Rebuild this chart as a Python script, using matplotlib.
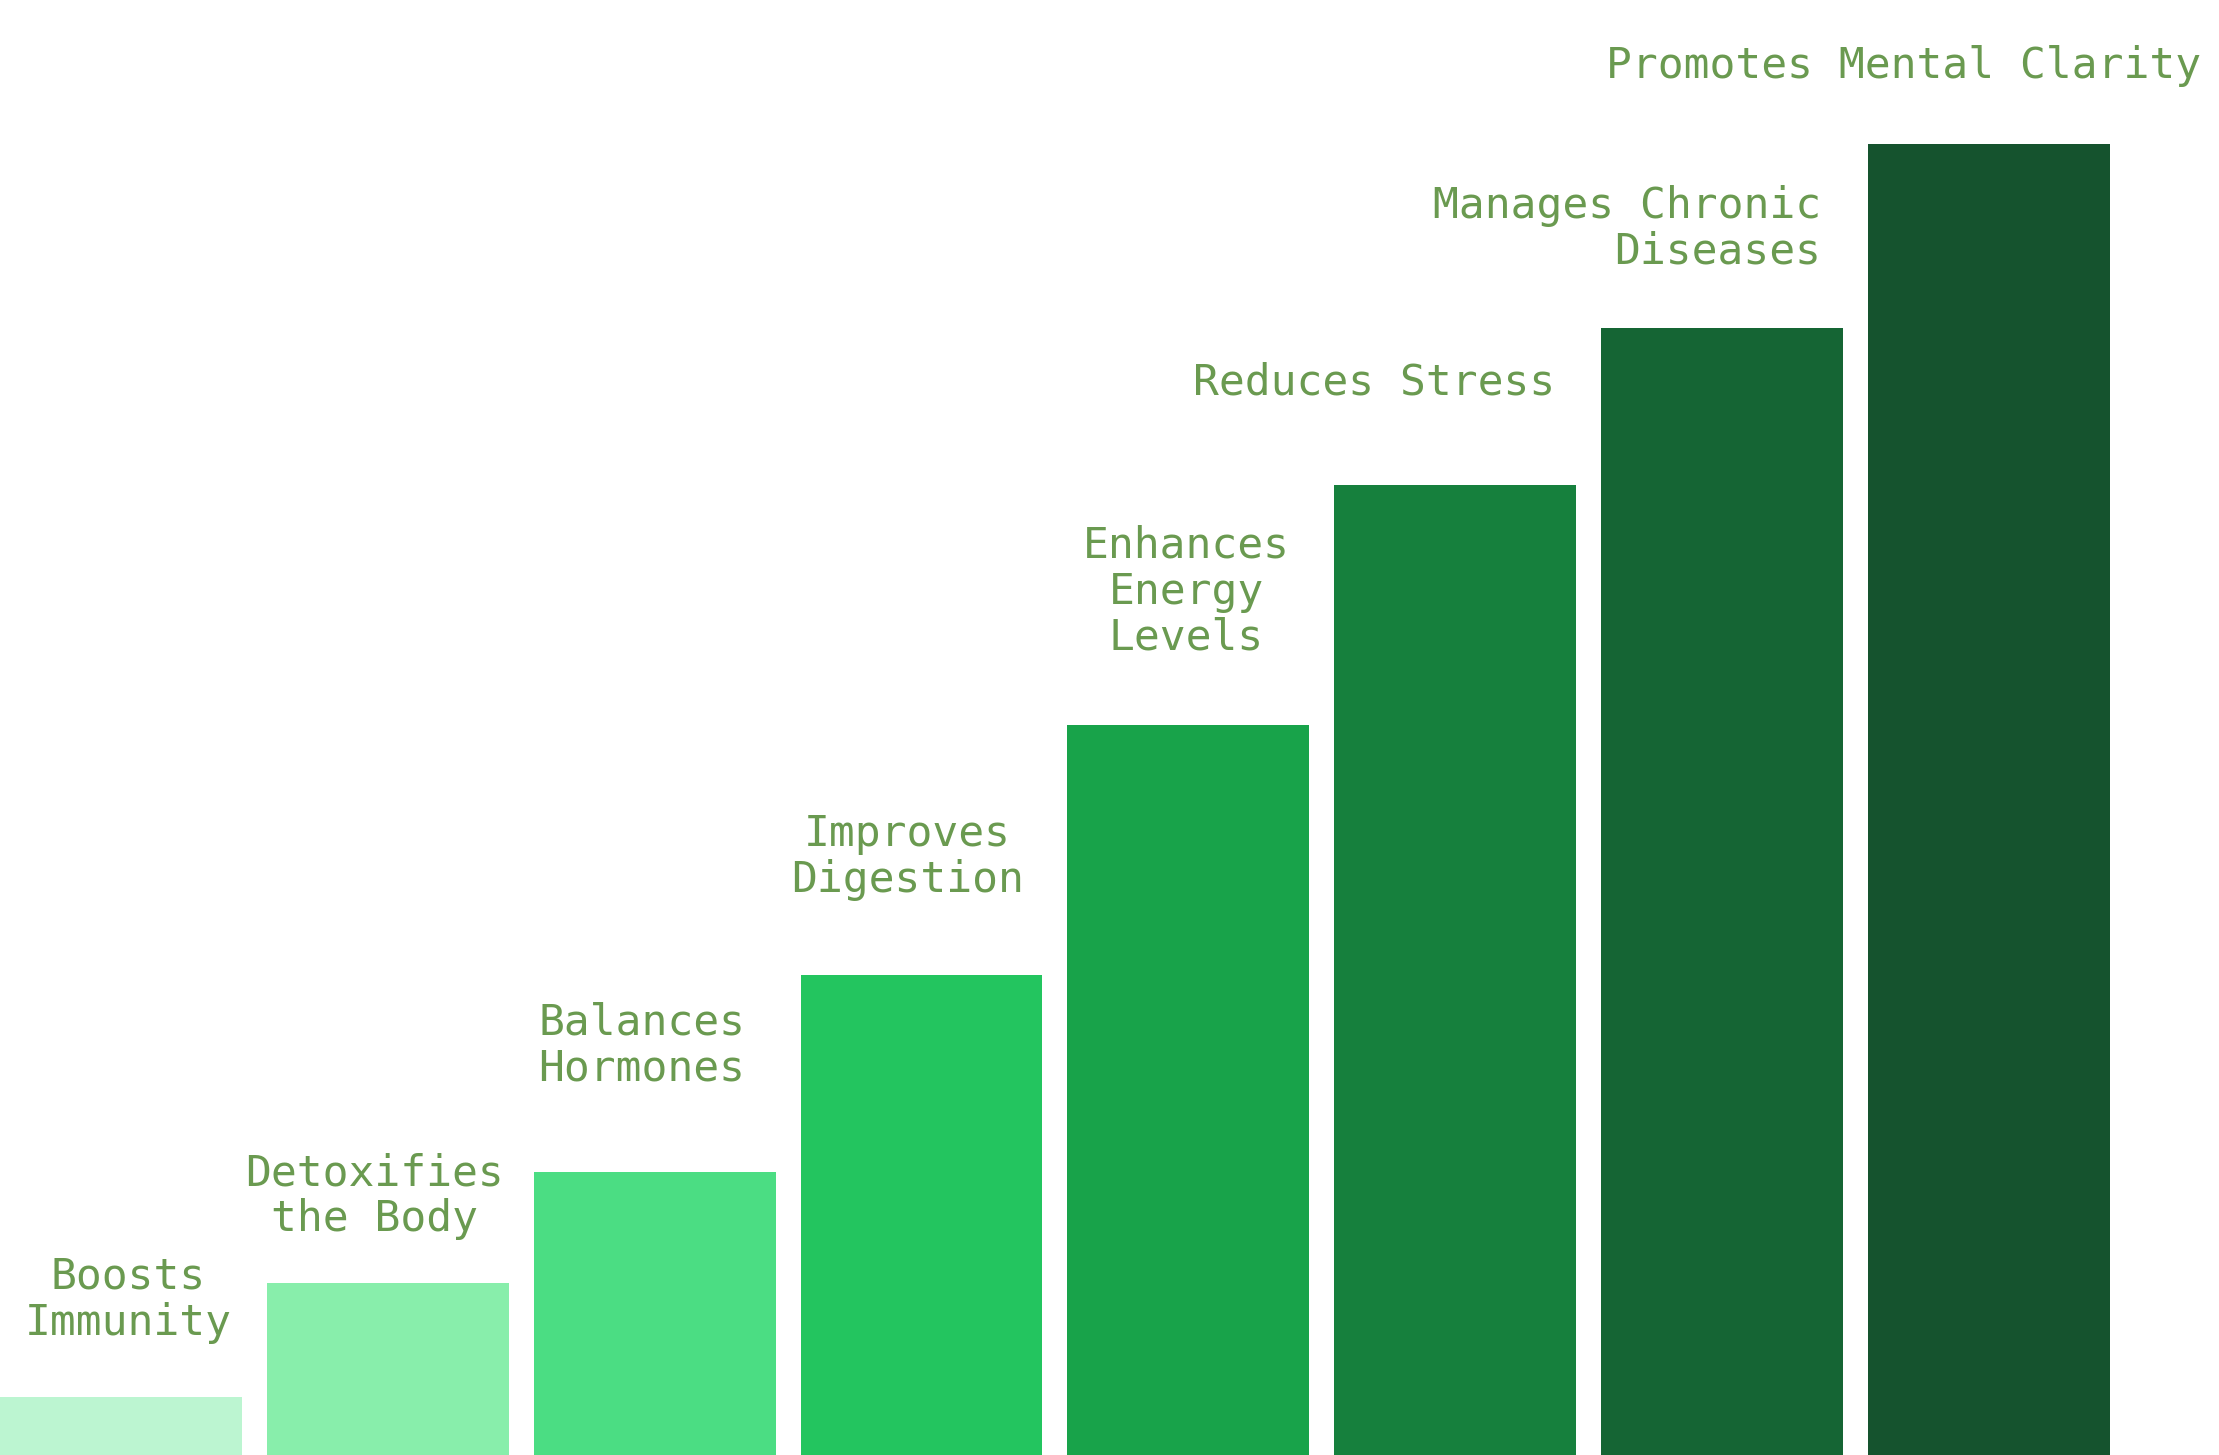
import matplotlib
matplotlib.use("Agg")
from matplotlib import pyplot as plt
import numpy as np

labels = ["Boosts\nImmunity", "Detoxifies\nthe Body", "Balances\nHormones",
          "Improves\nDigestion", "Enhances\nEnergy\nLevels", "Reduces Stress",
          "Manages Chronic\nDiseases", "Promotes Mental Clarity"]
values = [41, 122, 200, 340, 517, 687, 798, 928]
colors = ["#bcf5d1", "#88eeab", "#4bdd83", "#23c55f", "#18a34a", "#16803d",
          "#156534", "#15532e"]

# label placement in screen px of a 1560x1030 layout
lab_x = [90, 263, 451, 638, 834, 966, 1280, 1338]
lab_y = [920, 847, 740, 607, 419, 271, 162, 47]
lab_ha = ["center"] * 6 + ["right", "center"]

pitch = 187.6
fig = plt.figure(figsize=(22.19, 14.55), dpi=100)
ax = fig.add_axes([0, 0, 1, 1])
x = np.arange(len(values))
ax.bar(x, values, width=170 / pitch, align="edge", color=colors)
for i, lab in enumerate(labels):
    ax.text(lab_x[i] / pitch, 1030 - lab_y[i], lab, ha=lab_ha[i], va="center",
            multialignment=lab_ha[i], fontsize=31, color="#6a9a50",
            family="DejaVu Sans Mono", linespacing=1.12)
ax.set_xlim(0, 1560 / pitch)
ax.set_ylim(0, 1030)
ax.axis("off")
fig.savefig("out.png", dpi=100)
